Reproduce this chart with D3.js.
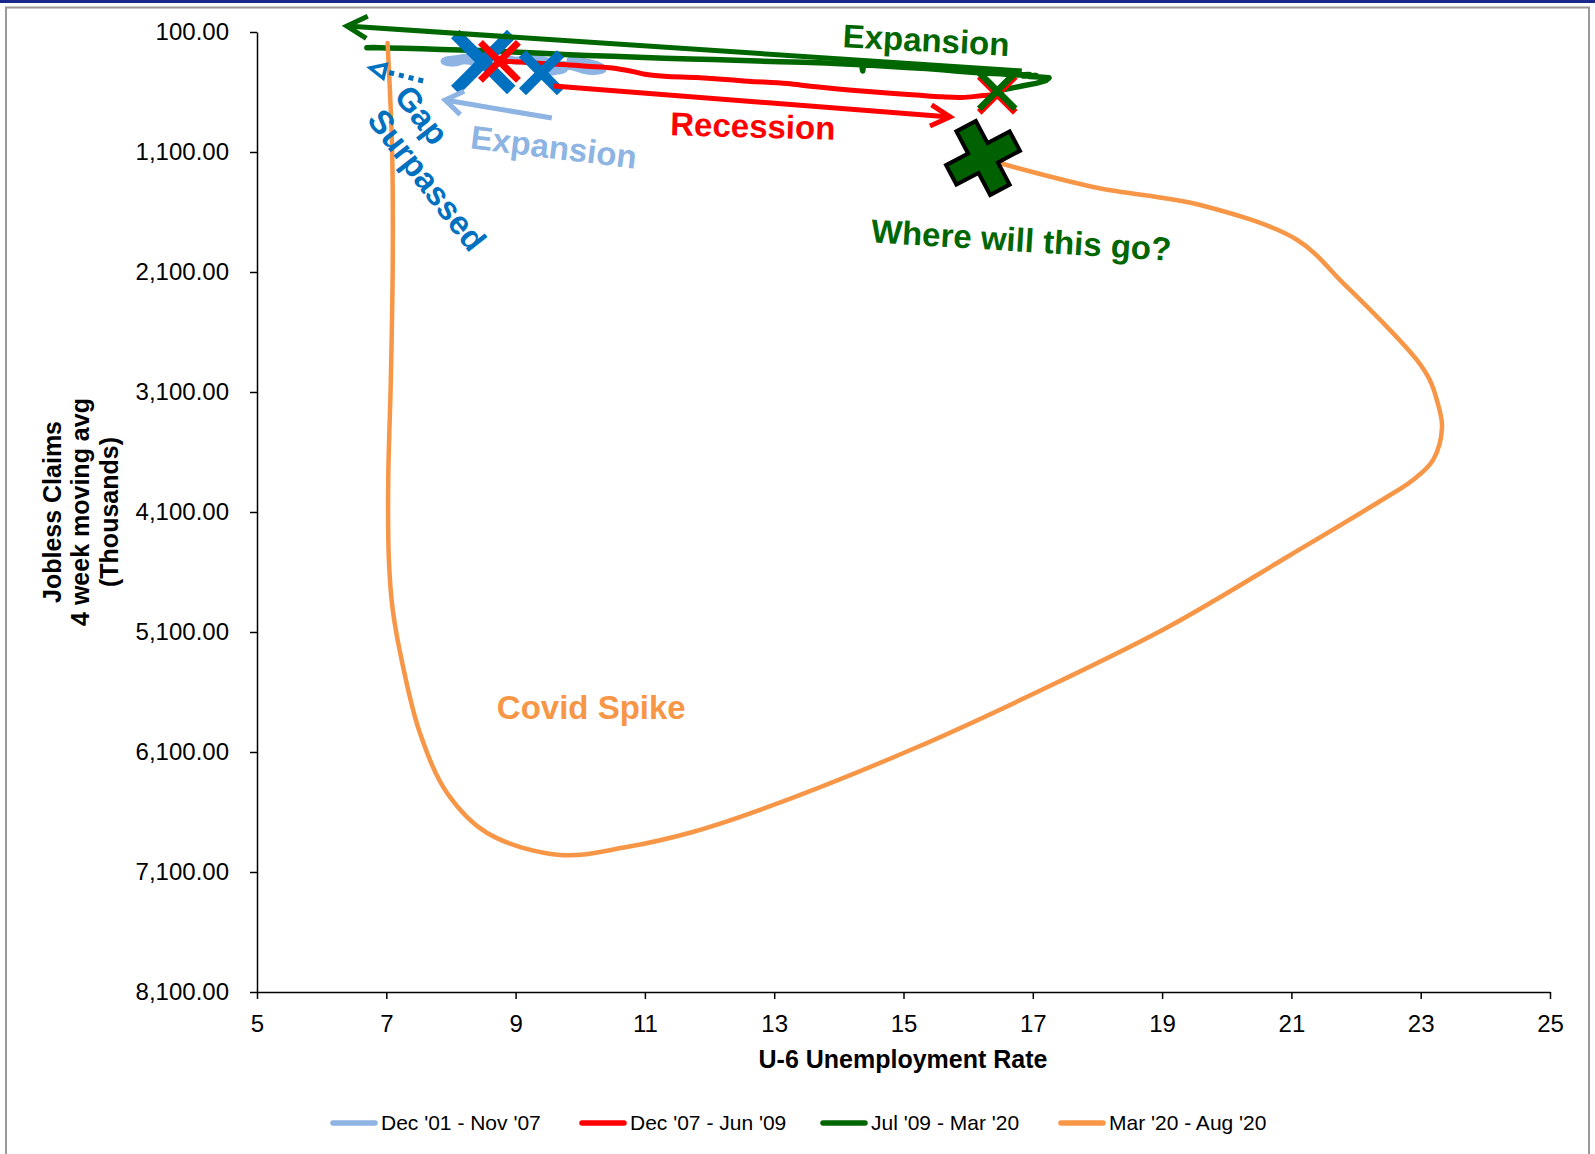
<!DOCTYPE html>
<html><head><meta charset="utf-8">
<script src="https://cdn.jsdelivr.net/npm/d3@7"></script>
<style>
html,body{margin:0;padding:0;background:#fff;}
svg{display:block;font-family:"Liberation Sans",Arial,Helvetica,sans-serif;}
</style></head><body>
<svg id="chart" width="1595" height="1154"></svg>
<script>
// ---------------- data ----------------
const xTicks = [5, 7, 9, 11, 13, 15, 17, 19, 21, 23, 25];
const yTicks = [100, 1100, 2100, 3100, 4100, 5100, 6100, 7100, 8100];
const seriesNames = ["Dec '01 - Nov '07", "Dec '07 - Jun '09", "Jul '09 - Mar '20", "Mar '20 - Aug '20"];
const xTitle = "U-6 Unemployment Rate";
const yTitleLines = ["Jobless Claims", "4 week moving avg", "(Thousands)"];

// [U-6 rate, jobless claims 4wk avg (thousands)]
const dec01Nov07 = [
  [9.40,440],[9.60,425],[9.75,405],[9.70,375],[9.90,390],[10.05,415],[10.20,425],[10.35,410],
  [10.25,375],[10.05,350],[9.85,335],[9.90,365],[9.70,390],[9.55,360],[9.40,330],[9.20,325],
  [9.00,340],[8.85,320],[8.70,335],[8.50,315],[8.30,310],[8.10,325],[7.95,335],[7.90,345],
  [8.05,355],[8.20,335],[8.35,345],[8.50,350]
];
const dec07Jun09 = [
  [8.75,345],[9.00,348],[9.20,355],[9.50,365],[9.80,372],[10.10,385],[10.50,400],[10.80,428],
  [11.00,452],[11.30,468],[11.80,480],[12.30,497],[12.60,510],[13.20,530],[13.60,555],[14.20,585],
  [14.80,610],[15.20,625],[15.60,640],[15.90,645],[16.20,632],[16.45,620]
];
const jul09Mar20 = [
  [16.45,590],[16.65,570],[16.85,548],[17.05,528],[17.20,505],[17.25,482],[17.10,474],[16.95,470],
  [17.05,462],[16.85,466],[16.95,455],[16.70,458],[16.50,448],[16.30,444],[16.05,436],[15.85,428],
  [15.60,415],[15.35,405],[15.05,395],[14.75,386],[14.50,378],[14.38,376],[14.37,425],[14.35,372],
  [14.10,366],[13.80,358],[13.45,352],[13.10,348],[12.75,342],[12.40,335],[12.05,330],[11.70,326],
  [11.30,318],[10.90,310],[10.50,302],[10.10,296],[9.75,288],[9.40,278],[9.05,268],[8.75,262],
  [8.45,255],[8.15,250],[7.85,246],[7.55,240],[7.25,236],[7.00,233],[6.80,229],[6.70,231]
];
const mar20Aug20 = [
  [7.02,192],[7.09,1083],[7.10,2000],[7.07,3000],[7.03,3833],[7.04,4500],[7.10,4917],[7.26,5392],
  [7.52,5942],[7.94,6442],[8.56,6775],[9.69,6958],[10.72,6892],[11.74,6767],[12.78,6583],[15.18,6067],
  [17.39,5517],[19.12,5050],[21.01,4450],[22.40,4000],[22.88,3833],[23.19,3667],[23.33,3392],[23.25,3167],
  [23.14,3000],[22.94,2833],[22.48,2558],[21.80,2192],[21.09,1833],[19.59,1542],[18.01,1400],[16.76,1233],[16.23,1150]
];

// ---------------- layout / style ----------------
const colors = ["#8DB4E2", "#FF0000", "#006600", "#F79646"];
const W = 1595, H = 1154;
const svg = d3.select("#chart");

// frame
svg.append("rect").attr("x",0).attr("y",0).attr("width",W).attr("height",3).attr("fill","#1a2a8c");
svg.append("rect").attr("x",6).attr("y",7.5).attr("width",1583).attr("height",H+20)
  .attr("fill","#fff").attr("stroke","#999").attr("stroke-width",2);

const x = d3.scaleLinear().domain([5, 25]).range([257, 1550]);
const y = d3.scaleLinear().domain([100, 8100]).range([32, 992]);

// axes
const gx = svg.append("g").attr("transform","translate(0,992)")
  .call(d3.axisBottom(x).tickValues(xTicks).tickSize(7).tickSizeOuter(0).tickPadding(16).tickFormat(d3.format("d")));
const gy = svg.append("g").attr("transform","translate(257,0)")
  .call(d3.axisLeft(y).tickValues(yTicks).tickSize(7).tickSizeOuter(0).tickPadding(21).tickFormat(d3.format(",.2f")));
[gx, gy].forEach(g => {
  g.attr("font-family", null).attr("font-size", null);
  g.selectAll("text").attr("font-size", 24).attr("fill", "#000");
  g.selectAll("line").attr("stroke", "#000").attr("stroke-width", 1.5);
  g.select(".domain").attr("stroke", "#000").attr("stroke-width", 1.5);
});

// axis titles
svg.append("text").attr("x", 903).attr("y", 1068).attr("text-anchor","middle")
  .attr("font-weight","bold").attr("font-size",25).text(xTitle);
const yTitleX = [52, 80, 109];
yTitleLines.forEach((t, i) => {
  svg.append("text").attr("transform", `translate(${yTitleX[i]},512) rotate(-90)`)
    .attr("text-anchor","middle").attr("dy","0.35em").attr("font-weight","bold").attr("font-size",25).text(t);
});

// series
const line = d3.line().x(d => x(d[0])).y(d => y(d[1]));
const smooth = d3.line().x(d => x(d[0])).y(d => y(d[1])).curve(d3.curveCatmullRom.alpha(0.5));
const plot = svg.append("g");
plot.append("path").datum(dec01Nov07).attr("d", smooth).attr("fill","none").attr("stroke",colors[0])
  .attr("stroke-width",8).attr("stroke-linejoin","round").attr("stroke-linecap","round");
plot.append("path").datum(dec07Jun09).attr("d", smooth).attr("fill","none").attr("stroke",colors[1])
  .attr("stroke-width",5).attr("stroke-linejoin","round").attr("stroke-linecap","round");
plot.append("path").datum(jul09Mar20).attr("d", line).attr("fill","none").attr("stroke",colors[2])
  .attr("stroke-width",5.5).attr("stroke-linejoin","round").attr("stroke-linecap","round");
plot.append("path").datum(mar20Aug20).attr("d", smooth).attr("fill","none").attr("stroke",colors[3])
  .attr("stroke-width",4.5).attr("stroke-linejoin","round").attr("stroke-linecap","round");

// markers
function xMark(pt, h, sw, color) {
  const cx = x(pt[0]), cy = y(pt[1]);
  plot.append("path").attr("d", `M${cx-h},${cy-h}L${cx+h},${cy+h}M${cx+h},${cy-h}L${cx-h},${cy+h}`)
    .attr("stroke", color).attr("stroke-width", sw).attr("fill","none");
}
xMark(dec01Nov07[dec01Nov07.length-1], 28, 12, "#0070C0");
xMark(dec01Nov07[0], 19, 10, "#0070C0");
xMark(dec07Jun09[0], 19, 7, colors[1]);
xMark(dec07Jun09[dec07Jun09.length-1], 18, 6.5, colors[1]);
xMark(jul09Mar20[0], 18, 6.5, colors[2]);
// big plus at last covid point
(function(){
  const pt = mar20Aug20[mar20Aug20.length-1];
  const w = 11, L = 36;
  const d = `M${-w},${-L}L${w},${-L}L${w},${-w}L${L},${-w}L${L},${w}L${w},${w}L${w},${L}L${-w},${L}L${-w},${w}L${-L},${w}L${-L},${-w}L${-w},${-w}Z`;
  plot.append("path").attr("d", d).attr("transform", `translate(${x(pt[0])},${y(pt[1])}) rotate(-28)`)
    .attr("fill","#006100").attr("stroke","#000").attr("stroke-width",4).attr("stroke-linejoin","miter");
})();

// annotation arrows (data coordinates)
function arrow(from, to, color, sw, headLen, headAng) {
  const x1 = x(from[0]), y1 = y(from[1]), x2 = x(to[0]), y2 = y(to[1]);
  const g = svg.append("g").attr("stroke", color).attr("stroke-width", sw).attr("fill","none");
  g.append("line").attr("x1",x1).attr("y1",y1).attr("x2",x2).attr("y2",y2);
  const a = Math.atan2(y1 - y2, x1 - x2);
  const p1 = [x2 + headLen*Math.cos(a+headAng), y2 + headLen*Math.sin(a+headAng)];
  const p2 = [x2 + headLen*Math.cos(a-headAng), y2 + headLen*Math.sin(a-headAng)];
  g.append("path").attr("d", `M${p1}L${x2},${y2}L${p2}`);
}
arrow([16.83, 425], [6.39, 50], colors[2], 5, 23, 0.5);
arrow([9.59, 550], [15.72, 808], colors[1], 5, 22, 0.5);
arrow([9.56, 817], [7.91, 667], colors[0], 5, 21, 0.6);

// dotted "gap" arrow
(function(){
  const from = [7.57, 508], to = [7.01, 433], tip = [6.75, 400];
  svg.append("line").attr("x1", x(from[0])).attr("y1", y(from[1])).attr("x2", x(to[0])).attr("y2", y(to[1]))
    .attr("stroke","#0070C0").attr("stroke-width",5).attr("stroke-dasharray","5,5");
  const tx = x(tip[0]), ty = y(tip[1]);
  const a = Math.atan2(y(to[1]) - ty, x(to[0]) - tx);
  const bx = tx + 15*Math.cos(a), by = ty + 15*Math.sin(a);
  const px = -Math.sin(a)*7, py = Math.cos(a)*7;
  svg.append("path").attr("d", `M${tx},${ty}L${bx+px},${by+py}L${bx-px},${by-py}Z`)
    .attr("fill","#fff").attr("stroke","#0070C0").attr("stroke-width",3.5).attr("stroke-linejoin","miter");
})();

// annotation texts
const notes = [
  {t:"Expansion", p:[15.35, 167], r:3, c:colors[2]},
  {t:"Recession", p:[12.67, 883], r:1.5, c:colors[1]},
  {t:"Expansion", p:[9.59, 1058], r:7, c:colors[0]},
  {t:"Where will this go?", p:[16.82, 1833], r:3.5, c:colors[2]},
  {t:"Covid Spike", p:[10.17, 5725], r:0, c:colors[3]},
  {t:"Gap", p:[7.55, 792], r:52, c:"#0070C0"},
  {t:"Surpassed", p:[7.63, 1333], r:52, c:"#0070C0"}
];
notes.forEach(n => {
  svg.append("text").attr("transform", `translate(${x(n.p[0])},${y(n.p[1])}) rotate(${n.r})`)
    .attr("text-anchor","middle").attr("dy","0.35em").attr("font-weight","bold").attr("font-size",33)
    .attr("fill", n.c).text(n.t);
});

// legend
const legendX = [330, 579, 820, 1058];
const lg = svg.append("g");
seriesNames.forEach((s, i) => {
  lg.append("line").attr("x1", legendX[i]+3).attr("x2", legendX[i]+45).attr("y1",1123).attr("y2",1123)
    .attr("stroke", colors[i]).attr("stroke-width",5.5).attr("stroke-linecap","round");
  lg.append("text").attr("x", legendX[i]+51).attr("y",1123).attr("dy","0.35em").attr("font-size",21)
    .attr("fill","#000").text(s);
});
</script>
</body></html>
